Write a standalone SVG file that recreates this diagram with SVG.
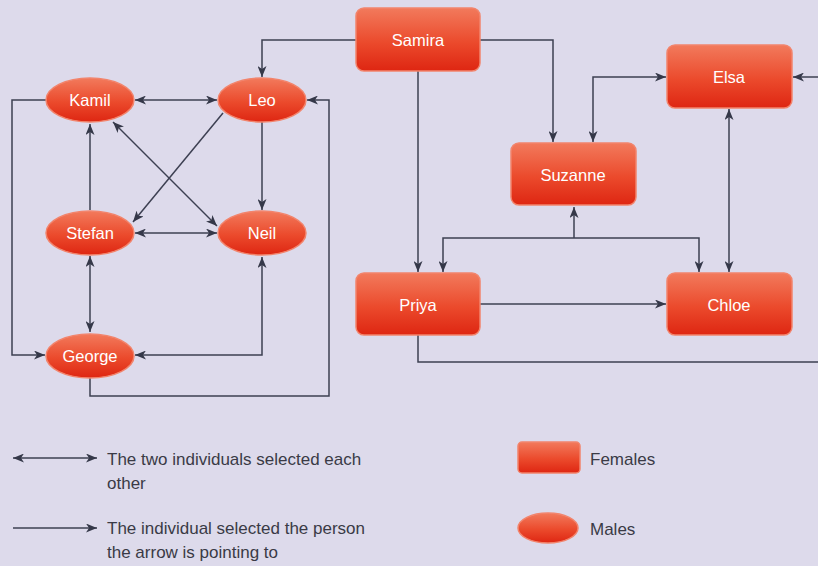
<svg xmlns="http://www.w3.org/2000/svg" width="818" height="566" viewBox="0 0 818 566">
<defs>
<linearGradient id="g" x1="0" y1="0" x2="0" y2="1">
<stop offset="0" stop-color="#f27a5c"/>
<stop offset="0.55" stop-color="#eb4a2c"/>
<stop offset="1" stop-color="#de2612"/>
</linearGradient>
<marker id="a" viewBox="0 0 11 9" refX="11" refY="4.5" markerWidth="11" markerHeight="9" markerUnits="userSpaceOnUse" orient="auto-start-reverse">
<path d="M0,0 L11,4.5 L0,9 L3,4.5 z" fill="#353849"/>
</marker>
</defs>
<style>
.f{fill:url(#g);stroke:#f2846c;stroke-width:1.5}
.t{font-family:"Liberation Sans",Arial,sans-serif;font-size:16.5px;fill:#ffffff;text-anchor:middle}
.l{font-family:"Liberation Sans",Arial,sans-serif;font-size:17px;fill:#3a3a46}
.c{fill:none;stroke:#3d4052;stroke-width:1.5}
.e{marker-end:url(#a)}
.b{marker-start:url(#a);marker-end:url(#a)}
</style>
<rect width="818" height="566" fill="#dddaeb"/>
<g id="connectors">
<path class="c e" d="M356,40 H262 V77"/>
<path class="c b" d="M135,100 H217"/>
<path class="c e" d="M46,100 H12 V355 H45"/>
<path class="c e" d="M223,113 L133,222"/>
<path class="c b" d="M113,122 L217,226"/>
<path class="c e" d="M262,122 V210"/>
<path class="c e" d="M90,210 V124"/>
<path class="c b" d="M135,233 H217"/>
<path class="c b" d="M90,256 V332"/>
<path class="c b" d="M262,257 V355 H135"/>
<path class="c e" d="M90,370 V396 H329 V100 H307"/>
<path class="c e" d="M480,40 H553 V142"/>
<path class="c b" d="M593,142 V77 H666"/>
<path class="c e" d="M418,71 V272"/>
<path class="c e" d="M574,238 V207"/>
<path class="c e" d="M574,238 H443 V272"/>
<path class="c e" d="M574,238 H699 V272"/>
<path class="c b" d="M729,109 V272"/>
<path class="c e" d="M480,304 H666"/>
<path class="c" d="M418,335 V362 H818"/>
<path class="c e" d="M818,77 H793"/>
</g>
<g id="samira"><rect class="f" x="356" y="8" width="124" height="63" rx="8"/><text class="t" x="418" y="46">Samira</text></g>
<g id="elsa"><rect class="f" x="667" y="45" width="125" height="63" rx="8"/><text class="t" x="729" y="83">Elsa</text></g>
<g id="suzanne"><rect class="f" x="511" y="143" width="125" height="62" rx="8"/><text class="t" x="573" y="181">Suzanne</text></g>
<g id="priya"><rect class="f" x="356" y="273" width="124" height="62" rx="8"/><text class="t" x="418" y="311">Priya</text></g>
<g id="chloe"><rect class="f" x="667" y="273" width="125" height="62" rx="8"/><text class="t" x="729" y="311">Chloe</text></g>
<g id="kamil"><ellipse class="f" cx="90" cy="100" rx="44" ry="22"/><text class="t" x="90" y="106">Kamil</text></g>
<g id="leo"><ellipse class="f" cx="262" cy="100" rx="44" ry="22"/><text class="t" x="262" y="106">Leo</text></g>
<g id="stefan"><ellipse class="f" cx="90" cy="233" rx="44" ry="22"/><text class="t" x="90" y="239">Stefan</text></g>
<g id="neil"><ellipse class="f" cx="262" cy="233" rx="44" ry="22"/><text class="t" x="262" y="239">Neil</text></g>
<g id="george"><ellipse class="f" cx="90" cy="356" rx="44" ry="22"/><text class="t" x="90" y="362">George</text></g>
<g id="legend">
<path class="c b" d="M13,458 H97"/>
<path class="c e" d="M13,528 H97"/>
<text class="l" x="107" y="465">The two individuals selected each</text>
<text class="l" x="107" y="489">other</text>
<text class="l" x="107" y="534">The individual selected the person</text>
<text class="l" x="107" y="558">the arrow is pointing to</text>
<rect class="f" x="518" y="442" width="62" height="31" rx="4"/>
<ellipse class="f" cx="548" cy="528" rx="30" ry="15"/>
<text class="l" x="590" y="465">Females</text>
<text class="l" x="590" y="535">Males</text>
</g>
</svg>
